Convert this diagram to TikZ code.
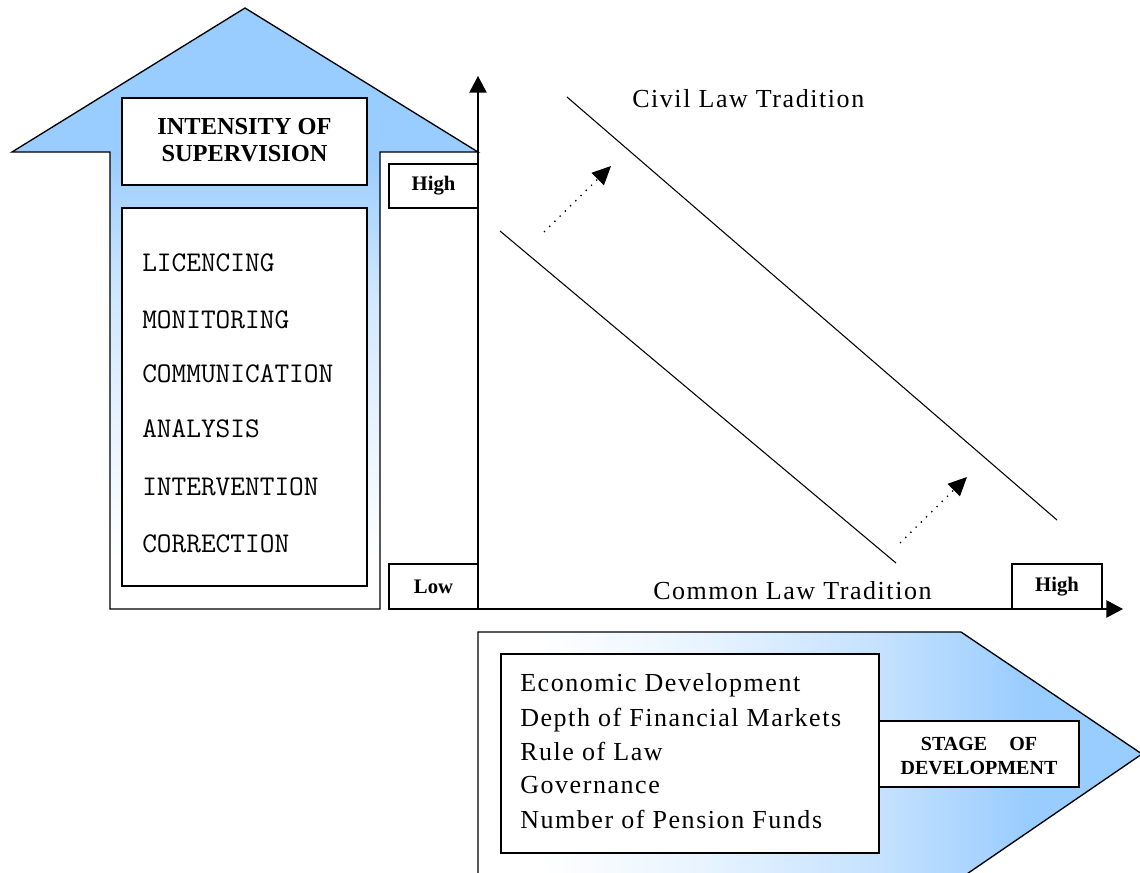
\documentclass[tikz,border=0pt]{standalone}
\usepackage{fontspec}
\setmainfont{Liberation Serif}
\newfontfamily\spfont[LetterSpace=6]{Liberation Serif}
\usetikzlibrary{arrows.meta}
\definecolor{lb}{RGB}{153,204,255}
\colorlet{lbA}{lb!22!white}
\colorlet{lbB}{lb!60!white}
\colorlet{lbC}{lb!45!white}
\begin{document}
\begin{tikzpicture}[x=0.75pt,y=-0.75pt,
  box/.style={draw, line width=1pt, fill=white, inner sep=0pt, outer sep=0pt, anchor=north west},
  shapeline/.style={draw=black, line width=1pt},
  axisline/.style={line width=1.1pt, -{Triangle[length=12.5pt,width=13pt]}},
  diag/.style={line width=0.8pt},
  dotarrow/.style={line width=1pt, dash pattern=on 1pt off 4.5pt, -{Triangle[length=14pt,width=13pt]}},
  monotxt/.style={font=\ttfamily\fontsize{21.4pt}{22pt}\selectfont, anchor=base west, inner sep=0pt},
  sertxt/.style={font=\spfont\fontsize{19.5pt}{21pt}\selectfont, anchor=base west, inner sep=0pt},
  boldtxt/.style={font=\bfseries\fontsize{18.3pt}{20.25pt}\selectfont, align=center},
  smallbold/.style={font=\bfseries\fontsize{15.5pt}{18pt}\selectfont},
  stagetxt/.style={font=\bfseries\fontsize{15pt}{18pt}\selectfont, align=center}
]
\useasboundingbox (0,0) rectangle (1140,872);
\clip (0,0) rectangle (1140,872);
\fill[white] (0,0) rectangle (1140,872);

% upward arrow (intensity of supervision)
\begin{scope}
  \clip (110,609) -- (110,152) -- (12,152) -- (245,8) -- (478,152) -- (380,152) -- (380,609) -- cycle;
  \fill[lb] (0,0) rectangle (600,152);
  \shade[top color=lb, bottom color=lbC] (0,152) rectangle (600,300);
  \shade[top color=lbC, bottom color=white] (0,300) rectangle (600,560);
\end{scope}
\draw[shapeline] (110,609) -- (110,152) -- (12,152) -- (245,8) -- (478,152) -- (380,152) -- (380,609) -- cycle;

% rightward arrow (stage of development)
\begin{scope}
  \clip (478,878) -- (478,632) -- (961,632) -- (1142,754) -- (961,878) -- cycle;
  \shade[left color=white, right color=lbA] (540,600) rectangle (700,880);
  \shade[left color=lbA, right color=lbB] (700,600) rectangle (890,880);
  \shade[left color=lbB, right color=lb] (890,600) rectangle (1030,880);
  \fill[lb] (1030,600) rectangle (1150,880);
\end{scope}
\draw[shapeline] (478,878) -- (478,632) -- (961,632) -- (1142,754) -- (961,878) -- cycle;

% boxes in the up arrow
\node[box, minimum width=183.75pt, minimum height=65.25pt] (title) at (122,98) {};
\node[boldtxt] (titletext) at (244.5,140) {INTENSITY OF\\SUPERVISION};
\node[box, minimum width=183.75pt, minimum height=283.5pt] (list) at (122,208) {};
\node[monotxt] (i1) at (142,271) {LICENCING};
\node[monotxt] (i2) at (142,328) {MONITORING};
\node[monotxt] (i3) at (142,382) {COMMUNICATION};
\node[monotxt] (i4) at (142,437) {ANALYSIS};
\node[monotxt] (i5) at (142,495) {INTERVENTION};
\node[monotxt] (i6) at (142,552) {CORRECTION};

% axes
\coordinate (O) at (478,609);
\coordinate (ytop) at (478,76);
\coordinate (xend) at (1123,609);
\node[box, smallbold, minimum width=66.75pt, minimum height=33pt] (hi1) at (389,164) {High};
\node[box, smallbold, minimum width=66.75pt, minimum height=33.75pt] (lo1) at (389,564) {Low};
\node[box, smallbold, minimum width=67.5pt, minimum height=33.75pt] (hi2) at (1012,564) {High};
\draw[axisline] (O) -- (ytop);
\draw[axisline] (O) -- (xend);

% tradition lines
\coordinate (cA) at (567,97);
\coordinate (cB) at (1057,520);
\coordinate (mA) at (500,231);
\coordinate (mB) at (896,563);
\draw[diag] (cA) -- (cB);
\draw[diag] (mA) -- (mB);
\coordinate (d1s) at (544,232);
\coordinate (d1e) at (611,166);
\coordinate (d2s) at (900,543);
\coordinate (d2e) at (967,477);
\draw[dotarrow] (d1s) -- (d1e);
\draw[dotarrow] (d2s) -- (d2e);
\node[sertxt] (civil) at (632,107) {Civil Law Tradition};
\node[sertxt] (common) at (653,599) {Common Law Tradition};

% boxes in the right arrow
\node[box, minimum width=283.5pt, minimum height=149.25pt] (factors) at (501,654) {};
\node[sertxt] (f1) at (520,691) {Economic Development};
\node[sertxt] (f2) at (520,726) {Depth of Financial Markets};
\node[sertxt] (f3) at (520,760) {Rule of Law};
\node[sertxt] (f4) at (520,793) {Governance};
\node[sertxt] (f5) at (520,828) {Number of Pension Funds};
\node[box, minimum width=150pt, minimum height=49.5pt] (stage) at (879,721) {};
\node[stagetxt] (stagetext) at (979,756) {STAGE\hspace{1.1em}OF\\DEVELOPMENT};
\end{tikzpicture}
\end{document}
